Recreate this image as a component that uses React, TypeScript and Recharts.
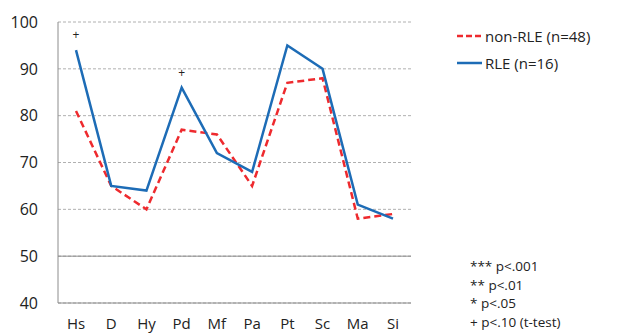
import React from 'react';
import { LineChart, Line, XAxis, YAxis, CartesianGrid, ReferenceLine, LabelList } from 'recharts';

const scales = ['Hs', 'D', 'Hy', 'Pd', 'Mf', 'Pa', 'Pt', 'Sc', 'Ma', 'Si'];
const nonRle = [81, 65, 60, 77, 76, 65, 87, 88, 58, 59];
const rle = [94, 65, 64, 86, 72, 68, 95, 90, 61, 58];
const significance = ['+', '', '', '+', '', '', '', '', '', ''];
const yTicks = [40, 50, 60, 70, 80, 90, 100];
const notes = ['*** p<.001', '** p<.01', '* p<.05', '+ p<.10 (t-test)'];

const data = scales.map((name, i) => ({
  name,
  nonRle: nonRle[i],
  rle: rle[i],
  sig: significance[i],
}));

const red = '#EE2A2E';
const blue = '#1D6CB6';
const font = '"Open Sans", Lato, sans-serif';

function SigMark(props: any) {
  const { x, y, value } = props;
  if (!value) return null;
  return (
    <text x={x} y={y - 11} textAnchor="middle" fontSize={12} fill="#222" stroke="none" fontFamily={font}>
      {value}
    </text>
  );
}

function LegendBox() {
  const rows = [
    { label: 'non-RLE (n=48)', color: red, dash: '6 3' },
    { label: 'RLE (n=16)', color: blue, dash: undefined },
  ];
  return (
    <div style={{ position: 'absolute', left: 457, top: 22, fontFamily: font, fontSize: 15, color: '#222' }}>
      {rows.map((r) => (
        <div key={r.label} style={{ display: 'flex', alignItems: 'center', height: 27 }}>
          <svg width={28} height={6}>
            <line x1={0} y1={3} x2={25} y2={3} stroke={r.color} strokeWidth={2.5} strokeDasharray={r.dash} />
          </svg>
          <span>{r.label}</span>
        </div>
      ))}
    </div>
  );
}

export default function App() {
  return (
    <div style={{ position: 'absolute', left: 0, top: 0, width: 627, height: 333, background: '#fff' }}>
      <LineChart width={627} height={333} data={data} margin={{ top: 22, right: 216, left: 0, bottom: 0 }}>
        <CartesianGrid vertical={false} strokeDasharray="3 2" stroke="#b0b0b0" />
        <ReferenceLine y={50} stroke="#8c8c8c" strokeWidth={1} />
        <XAxis
          dataKey="name"
          height={30}
          interval={0}
          padding={{ left: 18, right: 18 }}
          axisLine={{ stroke: '#8c8c8c' }}
          tickLine={false}
          tick={{ fill: '#222', fontSize: 15, fontFamily: font }}
          dy={7}
        />
        <YAxis
          domain={[40, 100]}
          ticks={yTicks}
          width={58}
          axisLine={{ stroke: '#8c8c8c' }}
          tickLine={false}
          tick={{ fill: '#222', fontSize: 16, fontFamily: font }}
          dx={-12}
        />
        <Line
          type="linear"
          dataKey="nonRle"
          stroke={red}
          strokeWidth={2.5}
          strokeDasharray="7 4"
          dot={false}
          isAnimationActive={false}
        />
        <Line type="linear" dataKey="rle" stroke={blue} strokeWidth={2.5} dot={false} isAnimationActive={false}>
          <LabelList dataKey="sig" content={<SigMark />} />
        </Line>
      </LineChart>
      <LegendBox />
      <div
        style={{
          position: 'absolute',
          left: 470,
          top: 257,
          fontFamily: font,
          fontSize: 13.5,
          lineHeight: '18.7px',
          color: '#222',
        }}
      >
        {notes.map((n) => (
          <div key={n}>{n}</div>
        ))}
      </div>
    </div>
  );
}
